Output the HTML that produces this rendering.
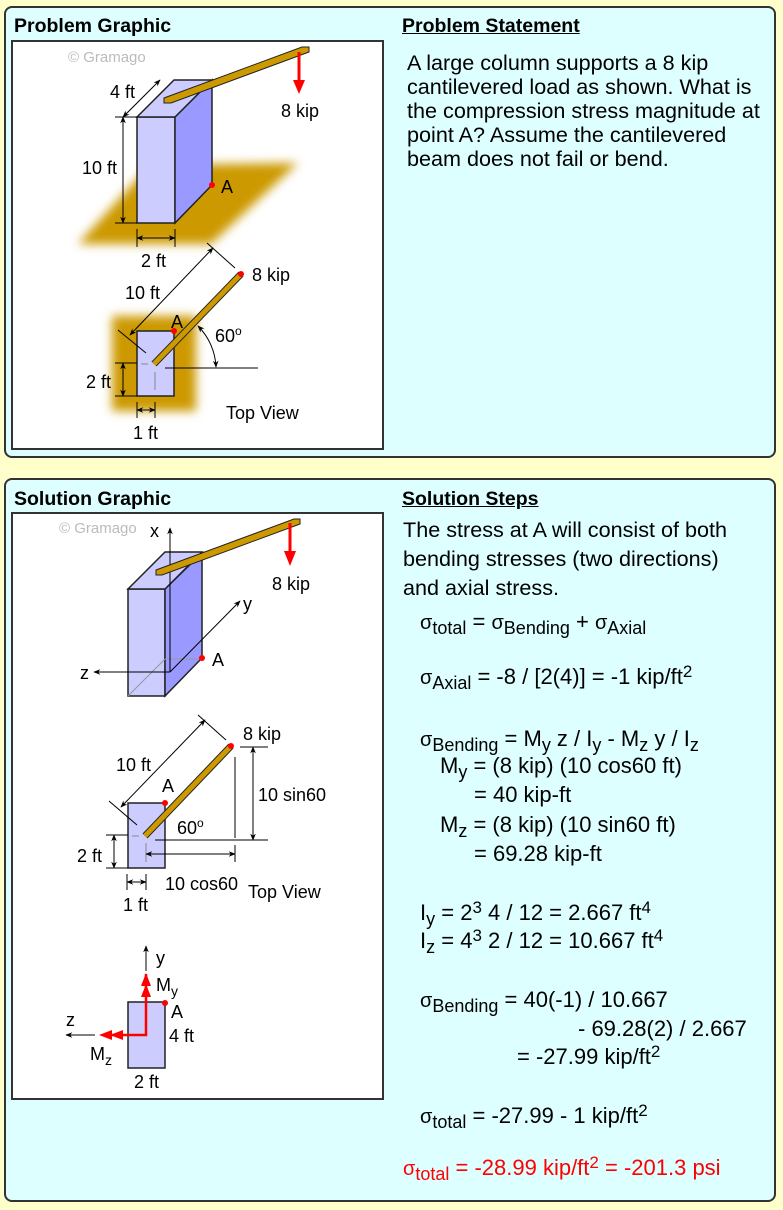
<!DOCTYPE html>
<html><head><meta charset="utf-8"><style>
body{margin:0;width:783px;height:1210px;background:#ffffcc;position:relative;overflow:hidden;font-family:"Liberation Sans",Arial,sans-serif;}
.panel{position:absolute;left:4px;width:772px;background:#ddffff;border:2px solid #333;border-radius:8px;box-sizing:border-box;}
.wb{position:absolute;left:11px;width:373px;background:#fff;border:2px solid #333;box-sizing:border-box;}
.t{position:absolute;white-space:nowrap;font-size:21.6px;color:#000;line-height:1;}
.q{font-size:22px;}
.h{position:absolute;font-weight:bold;font-size:19.5px;white-space:nowrap;}
.u{text-decoration:underline;}
.s{font-size:18px;position:relative;top:5px;}
.p{font-size:17px;position:relative;top:-7px;}
.g{font-size:20px;}
svg{position:absolute;left:0;top:0;}
</style></head><body>
<div class="panel" style="top:6px;height:452px"></div>
<div class="panel" style="top:478px;height:724px"></div>
<div class="wb" style="top:40px;height:410px"></div>
<div class="wb" style="top:512px;height:588px"></div>
<div class="h" style="left:14px;top:15px">Problem Graphic</div>
<div class="h u" style="left:402px;top:15px">Problem Statement</div>
<div class="h" style="left:14px;top:488px">Solution Graphic</div>
<div class="h u" style="left:402px;top:488px">Solution Steps</div>

<div class="t" style="left:407px;top:52px">A large column supports a 8 kip</div>
<div class="t" style="left:407px;top:76px">cantilevered load as shown. What is</div>
<div class="t" style="left:407px;top:100px">the compression stress magnitude at</div>
<div class="t" style="left:407px;top:124px">point A? Assume the cantilevered</div>
<div class="t" style="left:407px;top:148px">beam does not fail or bend.</div>

<div class="t" style="left:403px;top:519px">The stress at A will consist of both</div>
<div class="t" style="left:403px;top:548px">bending stresses (two directions)</div>
<div class="t" style="left:403px;top:577px">and axial stress.</div>
<div class="t q" style="left:420px;top:611px"><span class="g">σ</span><span class="s">total</span> = <span class="g">σ</span><span class="s">Bending</span> + <span class="g">σ</span><span class="s">Axial</span></div>
<div class="t q" style="left:420px;top:666px"><span class="g">σ</span><span class="s">Axial</span> = -8 / [2(4)] = -1 kip/ft<span class="p">2</span></div>
<div class="t q" style="left:420px;top:728px"><span class="g">σ</span><span class="s">Bending</span> = M<span class="s">y</span> z / I<span class="s">y</span> - M<span class="s">z</span> y / I<span class="s">z</span></div>
<div class="t q" style="left:440px;top:755px">M<span class="s">y</span> = (8 kip) (10 cos60 ft)</div>
<div class="t q" style="left:474px;top:784px">= 40 kip-ft</div>
<div class="t q" style="left:440px;top:814px">M<span class="s">z</span> = (8 kip) (10 sin60 ft)</div>
<div class="t q" style="left:474px;top:843px">= 69.28 kip-ft</div>
<div class="t q" style="left:420px;top:902px">I<span class="s">y</span> = 2<span class="p">3</span> 4 / 12 = 2.667 ft<span class="p">4</span></div>
<div class="t q" style="left:420px;top:930px">I<span class="s">z</span> = 4<span class="p">3</span> 2 / 12 = 10.667 ft<span class="p">4</span></div>
<div class="t q" style="left:420px;top:989px"><span class="g">σ</span><span class="s">Bending</span> = 40(-1) / 10.667</div>
<div class="t q" style="left:578px;top:1018px">- 69.28(2) / 2.667</div>
<div class="t q" style="left:517px;top:1046px">= -27.99 kip/ft<span class="p">2</span></div>
<div class="t q" style="left:420px;top:1105px"><span class="g">σ</span><span class="s">total</span> = -27.99 - 1 kip/ft<span class="p">2</span></div>
<div class="t q" style="left:403px;top:1157px;color:#ff0000"><span class="g">σ</span><span class="s">total</span> = -28.99 kip/ft<span class="p">2</span> = -201.3 psi</div>

<svg width="783" height="1210" font-family="Liberation Sans, Arial, sans-serif" font-size="18">
<defs>
<marker id="a" viewBox="0 0 10 10" refX="9" refY="5" markerWidth="7" markerHeight="7" orient="auto-start-reverse"><path d="M0,1 L10,5 L0,9 L3,5z" fill="#000"/></marker>
<filter id="bl" x="-30%" y="-30%" width="160%" height="160%"><feGaussianBlur stdDeviation="5"/></filter>
</defs>
<!-- Problem graphic -->
<text x="68" y="62" fill="#bbb" font-size="15">© Gramago</text>
<polygon points="78,244 150,165 298,163 211,244" fill="#cc9900" filter="url(#bl)"/>
<polygon points="137,117 175,117 175,223 137,223" fill="#ccccff" stroke="#222" stroke-width="1.5"/>
<polygon points="175,117 212,80 212,185 175,223" fill="#9999ff" stroke="#222" stroke-width="1.5"/>
<polygon points="137,117 174,80 212,80 175,117" fill="#ccccff" stroke="#222" stroke-width="1.5"/>
<polygon points="164,98 302,47 309,47 309,52 171,103 164,103" fill="#cc9900" stroke="#222" stroke-width="1"/>
<line x1="299" y1="52" x2="299" y2="82" stroke="#f00" stroke-width="3"/><polygon points="293,80 305,80 299,94" fill="#f00"/>
<text x="281" y="117">8 kip</text>
<line x1="123" y1="117" x2="160" y2="80" stroke="#000" marker-start="url(#a)" marker-end="url(#a)"/>
<text x="110" y="98">4 ft</text>
<line x1="123" y1="117" x2="123" y2="223" stroke="#000" marker-start="url(#a)" marker-end="url(#a)"/>
<line x1="115" y1="117" x2="137" y2="117" stroke="#000"/><line x1="115" y1="223" x2="137" y2="223" stroke="#000"/>
<text x="82" y="174">10 ft</text>
<line x1="137" y1="238" x2="175" y2="238" stroke="#000" marker-start="url(#a)" marker-end="url(#a)"/>
<line x1="137" y1="229" x2="137" y2="247" stroke="#000"/><line x1="175" y1="229" x2="175" y2="247" stroke="#000"/>
<text x="141" y="267">2 ft</text>
<circle cx="212" cy="185" r="3" fill="#f00"/><text x="221" y="193">A</text>
<!-- top view -->
<rect x="112" y="316" width="84" height="95" fill="#cc9900" filter="url(#bl)"/>
<rect x="137" y="331" width="37" height="65" fill="#ccccff" stroke="#222" stroke-width="1.5"/>
<line x1="141" y1="364" x2="148" y2="364" stroke="#888"/><line x1="155" y1="372" x2="155" y2="390" stroke="#888"/>
<line x1="154" y1="364" x2="241" y2="274" stroke="#222" stroke-width="7"/>
<line x1="154" y1="364" x2="241" y2="274" stroke="#cc9900" stroke-width="5"/>
<circle cx="241" cy="274" r="3" fill="#f00"/><circle cx="174" cy="331" r="3" fill="#f00"/>
<text x="171" y="328">A</text>
<line x1="130" y1="335" x2="213" y2="248" stroke="#000" marker-start="url(#a)" marker-end="url(#a)"/>
<line x1="118" y1="330" x2="146" y2="353" stroke="#000"/><line x1="207" y1="243" x2="235" y2="268" stroke="#000"/>
<text x="125" y="299">10 ft</text>
<text x="252" y="281">8 kip</text>
<line x1="165" y1="368" x2="258" y2="368" stroke="#000"/>
<path d="M198,326 A62,62 0 0 1 216,367" fill="none" stroke="#000" marker-start="url(#a)" marker-end="url(#a)"/>
<text x="215" y="342">60<tspan font-size="12" dy="-7">o</tspan></text>
<line x1="123" y1="363" x2="123" y2="396" stroke="#000" marker-start="url(#a)" marker-end="url(#a)"/>
<line x1="115" y1="363" x2="137" y2="363" stroke="#000"/><line x1="115" y1="396" x2="137" y2="396" stroke="#000"/>
<text x="86" y="388">2 ft</text>
<line x1="137" y1="410" x2="155" y2="410" stroke="#000" marker-start="url(#a)" marker-end="url(#a)"/>
<line x1="137" y1="402" x2="137" y2="418" stroke="#000"/><line x1="155" y1="402" x2="155" y2="418" stroke="#000"/>
<text x="133" y="439">1 ft</text>
<text x="226" y="419">Top View</text>

<!-- Solution graphic -->
<text x="59" y="533" fill="#bbb" font-size="15">© Gramago</text>
<polygon points="128,589 165,589 165,696 128,696" fill="#ccccff" stroke="#222" stroke-width="1.5"/>
<polygon points="165,589 202,553 202,658 165,696" fill="#9999ff" stroke="#222" stroke-width="1.5"/>
<polygon points="128,589 165,552 202,552 165,589" fill="#ccccff" stroke="#222" stroke-width="1.5"/>
<line x1="128" y1="696" x2="165" y2="659" stroke="#999"/><line x1="165" y1="659" x2="202" y2="659" stroke="#999"/>
<line x1="170" y1="672" x2="170" y2="528" stroke="#000" marker-end="url(#a)"/>
<text x="150" y="537">x</text>
<polygon points="156,570 294,519 300,519 300,524 162,575 156,575" fill="#cc9900" stroke="#222" stroke-width="1"/>
<line x1="290" y1="523" x2="290" y2="553" stroke="#f00" stroke-width="3"/><polygon points="284,551 296,551 290,566" fill="#f00"/>
<text x="272" y="590">8 kip</text>
<line x1="170" y1="672" x2="240" y2="601" stroke="#000" marker-end="url(#a)"/>
<text x="243" y="610">y</text>
<line x1="170" y1="672" x2="94" y2="672" stroke="#000" marker-end="url(#a)"/>
<text x="80" y="679">z</text>
<circle cx="202" cy="658" r="3" fill="#f00"/><text x="212" y="666">A</text>
<!-- top view 2 -->
<rect x="128" y="803" width="37" height="65" fill="#ccccff" stroke="#222" stroke-width="1.5"/>
<line x1="132" y1="836" x2="139" y2="836" stroke="#888"/><line x1="146" y1="843" x2="146" y2="862" stroke="#888"/>
<line x1="145" y1="836" x2="231" y2="746" stroke="#222" stroke-width="7"/>
<line x1="145" y1="836" x2="231" y2="746" stroke="#cc9900" stroke-width="5"/>
<circle cx="231" cy="746" r="3" fill="#f00"/><circle cx="165" cy="803" r="3" fill="#f00"/>
<text x="162" y="792">A</text>
<line x1="121" y1="807" x2="205" y2="720" stroke="#000" marker-start="url(#a)" marker-end="url(#a)"/>
<line x1="109" y1="801" x2="137" y2="825" stroke="#000"/><line x1="198" y1="715" x2="226" y2="740" stroke="#000"/>
<text x="116" y="771">10 ft</text>
<text x="243" y="740">8 kip</text>
<line x1="155" y1="840" x2="268" y2="840" stroke="#000"/>
<line x1="235" y1="757" x2="235" y2="838" stroke="#000"/>
<line x1="240" y1="747" x2="268" y2="747" stroke="#000"/>
<line x1="253" y1="747" x2="253" y2="840" stroke="#000" marker-start="url(#a)" marker-end="url(#a)"/>
<text x="258" y="801">10 sin60</text>
<line x1="146" y1="854" x2="235" y2="854" stroke="#000" marker-start="url(#a)" marker-end="url(#a)"/>
<line x1="235" y1="845" x2="235" y2="862" stroke="#000"/>
<text x="165" y="890">10 cos60</text>
<text x="177" y="834">60<tspan font-size="12" dy="-7">o</tspan></text>
<line x1="114" y1="835" x2="114" y2="868" stroke="#000" marker-start="url(#a)" marker-end="url(#a)"/>
<line x1="106" y1="835" x2="128" y2="835" stroke="#000"/><line x1="106" y1="868" x2="128" y2="868" stroke="#000"/>
<text x="77" y="862">2 ft</text>
<line x1="127" y1="882" x2="146" y2="882" stroke="#000" marker-start="url(#a)" marker-end="url(#a)"/>
<line x1="127" y1="874" x2="127" y2="890" stroke="#000"/><line x1="146" y1="874" x2="146" y2="890" stroke="#000"/>
<text x="123" y="911">1 ft</text>
<text x="248" y="898">Top View</text>
<!-- section -->
<rect x="128" y="1002" width="37" height="66" fill="#ccccff" stroke="#222" stroke-width="1.5"/>
<line x1="146" y1="971" x2="146" y2="946" stroke="#000" marker-end="url(#a)"/>
<text x="156" y="964">y</text>
<polyline points="146,974 146,1035 106,1035" fill="none" stroke="#f00" stroke-width="2.5"/>
<polygon points="146,973 141,986 151,986" fill="#f00"/><polygon points="146,984 141,997 151,997" fill="#f00"/>
<polygon points="99,1035 112,1030 112,1040" fill="#f00"/><polygon points="110,1035 123,1030 123,1040" fill="#f00"/>
<line x1="95" y1="1035" x2="66" y2="1035" stroke="#000" marker-end="url(#a)"/>
<text x="66" y="1026">z</text>
<text x="156" y="991">M<tspan font-size="14" dy="5">y</tspan></text>
<text x="90" y="1060">M<tspan font-size="14" dy="5">z</tspan></text>
<circle cx="165" cy="1003" r="3" fill="#f00"/>
<text x="171" y="1018">A</text>
<text x="169" y="1042">4 ft</text>
<text x="134" y="1088">2 ft</text>
</svg>
</body></html>
